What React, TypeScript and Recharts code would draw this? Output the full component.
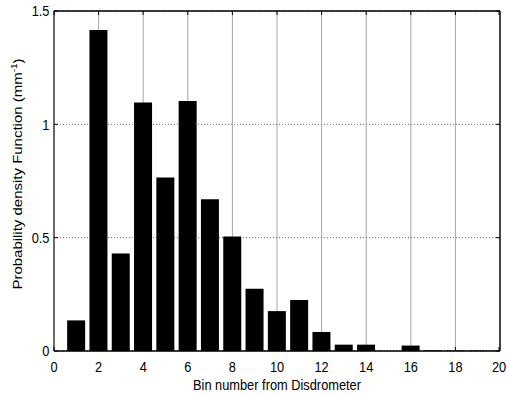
import React from "react";
import {
  BarChart, Bar, XAxis, YAxis, CartesianGrid, Label, ReferenceLine,
} from "recharts";

const bins = [1, 2, 3, 4, 5, 6, 7, 8, 9, 10, 11, 12, 13, 14, 15, 16, 17, 18, 19, 20];
const pdf = [
  0.135, 1.416, 0.43, 1.096, 0.765, 1.103, 0.67, 0.505, 0.275, 0.176,
  0.225, 0.084, 0.028, 0.028, 0, 0.024, 0.003, 0.002, 0.002, 0.001,
];
const xTicks = [0, 2, 4, 6, 8, 10, 12, 14, 16, 18, 20];
const yTicks = [0, 0.5, 1, 1.5];

const data = bins.map((b, i) => ({ bin: b, pdf: pdf[i] }));

const W = 507;
const H = 395;
const M = { top: 11, right: 7, left: 8, bottom: 14 };
const PLOT_LEFT = 54;
const PLOT_RIGHT = 500;
const PLOT_TOP = 11;
const PLOT_BOTTOM = 351;
const FONT = "'Liberation Sans', Arial, sans-serif";
const SQ = 0.855; // text in the source image is squeezed horizontally

function XTick(props: any) {
  const { x, payload } = props;
  return (
    <g>
      <line x1={x} x2={x} y1={PLOT_BOTTOM} y2={PLOT_BOTTOM - 4} stroke="#000" />
      <line x1={x} x2={x} y1={PLOT_TOP} y2={PLOT_TOP + 4} stroke="#000" />
      <text
        transform={`translate(${x}, ${PLOT_BOTTOM + 21}) scale(${SQ}, 1)`}
        textAnchor="middle"
        fontSize={15}
        fontFamily={FONT}
        fill="#000"
      >
        {payload.value}
      </text>
    </g>
  );
}

function YTick(props: any) {
  const { y, payload } = props;
  return (
    <g>
      <line x1={PLOT_LEFT} x2={PLOT_LEFT + 4} y1={y} y2={y} stroke="#000" />
      <line x1={PLOT_RIGHT - 4} x2={PLOT_RIGHT} y1={y} y2={y} stroke="#000" />
      <text
        transform={`translate(${PLOT_LEFT - 4.5}, ${y}) scale(${SQ}, 1)`}
        dy="0.355em"
        textAnchor="end"
        fontSize={15}
        fontFamily={FONT}
        fill="#000"
      >
        {payload.value}
      </text>
    </g>
  );
}

function XLabel() {
  return (
    <text
      transform={`translate(${(PLOT_LEFT + PLOT_RIGHT) / 2}, 390) scale(${SQ}, 1)`}
      textAnchor="middle"
      fontSize={15}
      fontFamily={FONT}
      fill="#000"
    >
      Bin number from Disdrometer
    </text>
  );
}

function YLabel() {
  const cx = 22;
  const cy = 174;
  return (
    <text
      transform={`translate(${cx}, ${cy}) scale(${SQ}, 1) rotate(-90)`}
      textAnchor="middle"
      fontSize={15}
      fontFamily={FONT}
      fill="#000"
    >
      Probability density Function (mm
      <tspan fontSize={10} dy={-6}>-1</tspan>
      <tspan dy={6}>)</tspan>
    </text>
  );
}

export default function App() {
  return (
    <div style={{ position: "absolute", left: 0, top: 0, width: W, height: H, background: "#fff" }}>
      <BarChart width={W} height={H} data={data} margin={M}>
        <CartesianGrid horizontal={false} stroke="#a6a6a6" />
        <CartesianGrid vertical={false} stroke="#666" strokeDasharray="1 2" />
        <XAxis
          dataKey="bin"
          type="number"
          domain={[0, 20]}
          ticks={xTicks}
          allowDataOverflow
          height={30}
          tickSize={0}
          tickLine={false}
          tick={<XTick />}
          stroke="#000"
          strokeWidth={1.5}
        >
          <Label content={<XLabel />} />
        </XAxis>
        <YAxis
          type="number"
          domain={[0, 1.5]}
          ticks={yTicks}
          width={46}
          tickSize={0}
          tickLine={false}
          tick={<YTick />}
          stroke="#000"
        >
          <Label content={<YLabel />} />
        </YAxis>
        <ReferenceLine y={yTicks[yTicks.length - 1]} stroke="#000" strokeWidth={1.5} />
        <ReferenceLine x={xTicks[xTicks.length - 1]} stroke="#444" strokeWidth={2} />
        <Bar dataKey="pdf" fill="#000" barSize={18} isAnimationActive={false} />
      </BarChart>
    </div>
  );
}
